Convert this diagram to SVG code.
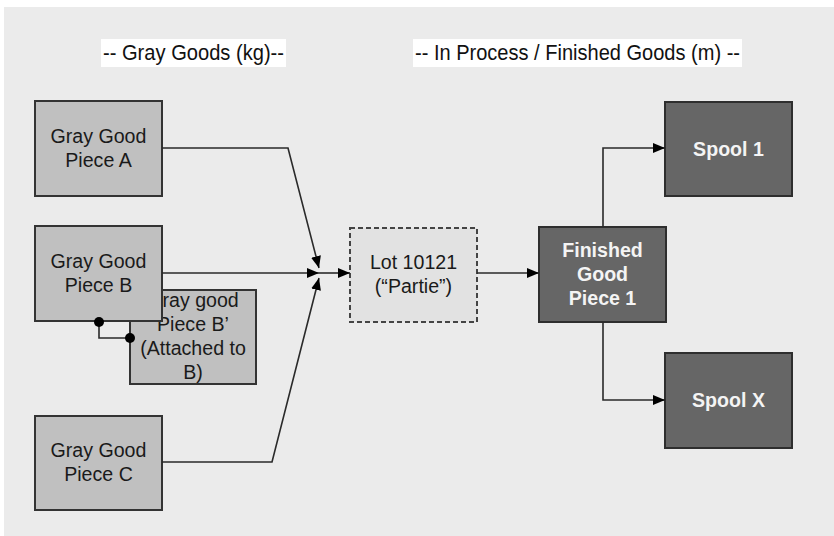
<svg xmlns="http://www.w3.org/2000/svg" width="834" height="536" viewBox="0 0 834 536">
<defs>
<style>
.bg{fill:#ebebeb}
.hdr{fill:#ffffff}
.htxt{font-family:"Liberation Sans",Arial,sans-serif;font-size:22px;fill:#111}
.gray rect{fill:#c0c0c0;stroke:#333;stroke-width:2}
.dark rect{fill:#666;stroke:#2e2e2e;stroke-width:2}
.lot rect{fill:#e2e2e2;stroke:#444;stroke-width:2;stroke-dasharray:5 3}
.t{font-family:"Liberation Sans",Arial,sans-serif;font-size:19.6px;fill:#1a1a1a;text-anchor:middle}
.tw{font-family:"Liberation Sans",Arial,sans-serif;font-size:19.6px;font-weight:bold;fill:#f4f4f4;text-anchor:middle}
.conn path{fill:none;stroke:#2a2a2a;stroke-width:1.6}
.dot{fill:#000}
</style>
<marker id="ah" viewBox="0 0 12 10" refX="12" refY="5" markerWidth="12" markerHeight="10" markerUnits="userSpaceOnUse" orient="auto">
<path d="M0,0 L12,5 L0,10 z" fill="#000"/>
</marker>
</defs>
<rect x="0" y="0" width="834" height="536" fill="#fff"/>
<rect class="bg" x="4" y="7" width="830" height="529"/>

<g id="header-gray">
<rect class="hdr" x="101" y="39" width="185" height="28"/>
<text class="htxt" x="103" y="60" textLength="181" lengthAdjust="spacingAndGlyphs">-- Gray Goods (kg)--</text>
</g>
<g id="header-process">
<rect class="hdr" x="413" y="39" width="329" height="28"/>
<text class="htxt" x="415" y="60" textLength="325" lengthAdjust="spacingAndGlyphs">-- In Process / Finished Goods (m) --</text>
</g>

<g id="piece-b-prime" class="gray">
<rect x="130" y="290" width="126" height="94"/>
<text class="t" x="193" y="307">Gray good</text>
<text class="t" x="193" y="331">Piece B’</text>
<text class="t" x="193" y="355">(Attached to</text>
<text class="t" x="193" y="379">B)</text>
</g>
<g id="piece-a" class="gray">
<rect x="35" y="101" width="127" height="95"/>
<text class="t" x="98.5" y="143">Gray Good</text>
<text class="t" x="98.5" y="167">Piece A</text>
</g>
<g id="piece-b" class="gray">
<rect x="35" y="226" width="127" height="95"/>
<text class="t" x="98.5" y="268">Gray Good</text>
<text class="t" x="98.5" y="292">Piece B</text>
</g>
<g id="piece-c" class="gray">
<rect x="35" y="416" width="127" height="94"/>
<text class="t" x="98.5" y="457">Gray Good</text>
<text class="t" x="98.5" y="481">Piece C</text>
</g>
<g id="lot" class="lot">
<rect x="350" y="228" width="127" height="94"/>
<text class="t" x="413.5" y="269">Lot 10121</text>
<text class="t" x="413.5" y="293">(“Partie”)</text>
</g>
<g id="finished" class="dark">
<rect x="539" y="227" width="127" height="95"/>
<text class="tw" x="602.5" y="257">Finished</text>
<text class="tw" x="602.5" y="281">Good</text>
<text class="tw" x="602.5" y="305">Piece 1</text>
</g>
<g id="spool-1" class="dark">
<rect x="665" y="102" width="127" height="94"/>
<text class="tw" x="728.5" y="156">Spool 1</text>
</g>
<g id="spool-x" class="dark">
<rect x="665" y="353" width="127" height="95"/>
<text class="tw" x="728.5" y="407">Spool X</text>
</g>

<g id="connectors" class="conn">
<path d="M162,148 H288 L319,268" marker-end="url(#ah)"/>
<path d="M162,273 H319" marker-end="url(#ah)"/>
<path d="M162,462 H272 L319,278" marker-end="url(#ah)"/>
<path d="M319,273 H350" marker-end="url(#ah)"/>
<path d="M477,273 H539" marker-end="url(#ah)"/>
<path d="M603,227 V148 H665" marker-end="url(#ah)"/>
<path d="M603,322 V400 H665" marker-end="url(#ah)"/>
<path d="M99,322 V338 H130"/>
<circle class="dot" cx="99" cy="322" r="5"/>
<circle class="dot" cx="130" cy="338" r="5"/>
</g>
</svg>
